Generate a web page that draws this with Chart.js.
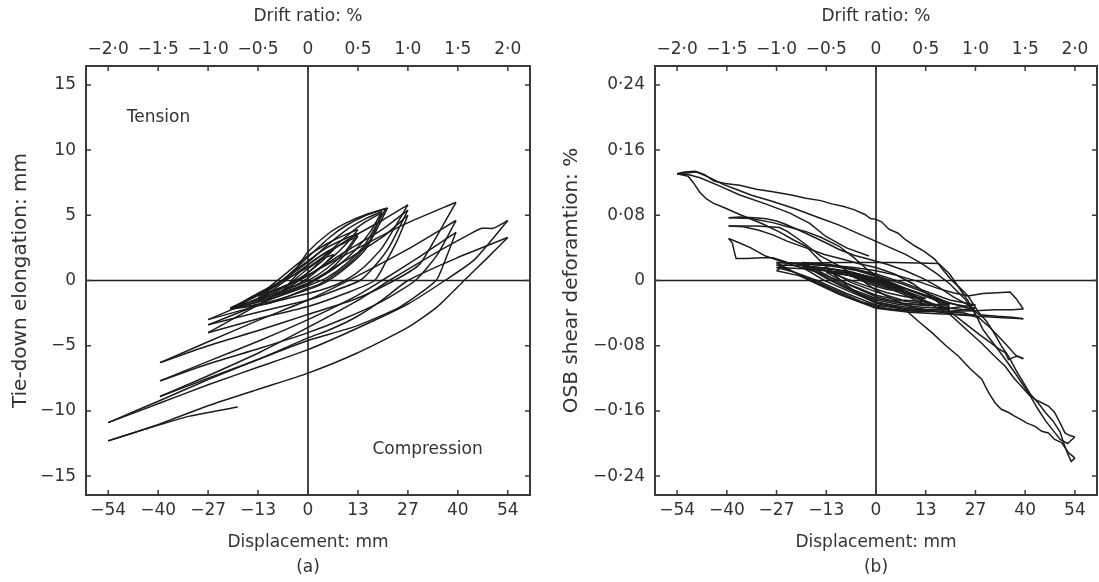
<!DOCTYPE html>
<html>
<head>
<meta charset="utf-8">
<script src="https://cdn.jsdelivr.net/npm/chart.js@4.4.1/dist/chart.umd.min.js"></script>
<style>
  html, body { margin: 0; padding: 0; background: #fff; overflow: hidden; }
  #chartA { position: absolute; left: 0; top: 0; }
  #chartB { position: absolute; left: 549px; top: 0; }
</style>
</head>
<body>
<canvas id="chartA" width="550" height="582"></canvas>
<canvas id="chartB" width="550" height="582"></canvas>
<script>
// axis ticks
const dispTicks = [-54, -40.5, -27, -13.5, 0, 13.5, 27, 40.5, 54]
const dispLabels = ['−54', '−40', '−27', '−13', '0', '13', '27', '40', '54']
const driftTicks = [-2, -1.5, -1, -0.5, 0, 0.5, 1, 1.5, 2]
const driftLabels = ['−2·0', '−1·5', '−1·0', '−0·5', '0', '0·5', '1·0', '1·5', '2·0']
const elongTicks = [-15, -10, -5, 0, 5, 10, 15]
const elongLabels = ['−15', '−10', '−5', '0', '5', '10', '15']
const shearTicks = [-0.24, -0.16, -0.08, 0, 0.08, 0.16, 0.24]
const shearLabels = ['−0·24', '−0·16', '−0·08', '0', '0·08', '0·16', '0·24']

// (a) tie-down elongation loops, [displacement mm, elongation mm]
const a7 = [[-7,-0.8],[-3.5,-0.4],[0,0.2],[3.5,1.0],[7,2.0],[3.5,1.6],[0,0.9],[-3.5,0.1],[-7,-0.8]]
const a7b = [[-7,-0.9],[-3.5,-0.2],[0,0.6],[3.5,1.4],[7,2.4],[3.5,1.9],[0,1.2],[-3.5,0.3],[-7,-0.9]]
const a13a = [[-13.5,-1.4],[-7,-0.8],[0,0.0],[5,0.9],[10,2.2],[13.5,3.6],[10,3.2],[5,2.5],[0,1.5],[-7,0.0],[-13.5,-1.4]]
const a13b = [[-13.5,-1.6],[-7,-1.0],[0,-0.3],[5,0.6],[10,2.0],[13.5,3.4],[10,2.9],[5,2.2],[0,1.2],[-7,-0.2],[-13.5,-1.6]]
const a13c = [[-13.5,-1.2],[-7,-0.5],[0,0.4],[5,1.4],[10,2.7],[13.5,3.9],[10,3.5],[5,2.8],[0,1.9],[-7,0.3],[-13.5,-1.2]]
const a20a = [[-21,-2.2],[-16,-1.5],[-8.6,-0.4],[-3,1.0],[0,1.8],[5.8,3.3],[10.2,4.2],[15.7,5.0],[21,5.5],[18,4.0],[15,2.6],[10,1.2],[5,0.2],[0,-0.4],[-10,-1.4],[-21,-2.2]]
const a20b = [[-21,-2.1],[-15,-1.3],[-8,-0.2],[-3,1.0],[0,2.2],[5.8,3.66],[10.2,4.4],[15.7,5.06],[21.5,5.57],[18,3.6],[15,2.2],[10,0.9],[5,-0.1],[0,-0.7],[-10,-1.6],[-21,-2.2]]
const a20c = [[-21,-2.2],[-14,-1.6],[-7,-0.6],[0,0.6],[5,2.0],[10,3.3],[15,4.4],[20,5.2],[17,3.2],[13,1.8],[8,0.6],[3,-0.3],[0,-0.6],[-10,-1.7],[-21,-2.2]]
const a20d = [[-20,-2.0],[-14,-1.2],[-7,0.0],[0,1.4],[6,2.9],[11,4.0],[16,4.8],[20,5.3],[17,3.8],[13,2.4],[8,1.1],[3,0.2],[0,-0.2],[-10,-1.2],[-20,-2.0]]
const a27a = [[-21,-2.2],[-13,-0.9],[0,1.0],[10,3.0],[20,4.6],[27,5.8],[20,2.5],[15,1.0],[10,0],[5,-0.6],[0,-1.0],[-13,-1.9],[-27,-3.0]]
const a27b = [[-27,-3.0],[-13,-1.3],[0,0.4],[10,2.2],[20,3.9],[27,5.4],[22,2.6],[18,1.1],[14,0],[7,-0.8],[0,-1.5],[-13,-2.4],[-27,-3.4]]
const a27c = [[-27,-3.4],[-13,-1.8],[0,-0.2],[10,1.5],[20,3.3],[27,5.0],[24,3.0],[21,1.4],[18,0],[10,-1.0],[0,-2.0],[-13,-2.9],[-27,-4.0]]
const a40a = [[-27,-4.0],[-13,-1.8],[0,0.4],[13,2.4],[26,4.3],[40,6.0],[34,3.0],[30,1.2],[23.3,0],[13,-1.4],[0,-2.6],[-13,-3.8],[-27,-5.0],[-40,-6.3]]
const a40b = [[-40,-6.3],[-27,-4.7],[-13,-3.0],[0,-1.5],[13,0.3],[27,2.4],[40,4.6],[35,2.0],[29,0],[20,-1.6],[10,-2.9],[0,-4.0],[-13,-5.2],[-27,-6.4],[-40,-7.7]]
const a40c = [[-40,-7.7],[-27,-6.2],[-13,-4.6],[0,-3.0],[13,-1.2],[20,0],[30,1.8],[40,3.7],[37,1.5],[34.6,0],[25,-2.0],[13,-3.5],[0,-4.6],[-13,-6.0],[-27,-7.5],[-40,-8.9]]
const a54a = [[-40,-8.9],[-27,-7.3],[-13,-5.5],[0,-3.6],[13,-1.6],[22,0],[35,2.2],[44,3.6],[47,4.0],[50,4.0],[54,4.6],[45,1.6],[37,0],[27,-1.8],[13,-3.7],[0,-5.3],[-13,-6.6],[-27,-8.0],[-40,-9.4],[-54,-10.9]]
const a54b = [[-54,-10.9],[-40,-9.2],[-27,-7.6],[-13,-6.0],[0,-4.4],[6,-3.76],[13,-2.8],[20,-1.5],[27,0],[40,1.7],[54,3.3],[48,1.6],[42.2,0],[35,-2.0],[27,-3.6],[13,-5.6],[0,-7.1],[-13,-8.3],[-27,-9.6],[-40,-11.0],[-54,-12.3]]
const aEnd = [[-54,-12.3],[-44,-11.4],[-32,-10.4],[-19,-9.7]]

// (b) OSB shear deformation paths, [displacement mm, shear %]
const b7a = [[-7,0.006],[-3,0.003],[0,-0.001],[4,-0.007],[7,-0.013],[3,-0.011],[0,-0.007],[-4,0.0],[-7,0.006]]
const b7b = [[-7,0.009],[-3,0.004],[0,0.0],[4,-0.005],[7,-0.01],[3,-0.009],[0,-0.005],[-4,0.002],[-7,0.009]]
const b13a = [[-13.5,0.012],[-8,0.009],[-3,0.004],[3,-0.005],[8,-0.013],[13.5,-0.022],[8,-0.02],[3,-0.015],[-3,-0.006],[-8,0.002],[-13.5,0.012]]
const b13b = [[-13.5,0.015],[-7,0.011],[0,0.002],[7,-0.01],[13.5,-0.026],[7,-0.024],[0,-0.014],[-7,-0.002],[-13.5,0.015]]
const b13c = [[-13.5,0.01],[-7,0.006],[0,-0.004],[7,-0.016],[13.5,-0.03],[7,-0.028],[0,-0.02],[-7,-0.006],[-13.5,0.01]]
const b20a = [[-20,0.018],[-13,0.015],[-6,0.009],[0,0.003],[7,-0.008],[13,-0.018],[20,-0.03],[14,-0.029],[7,-0.025],[0,-0.018],[-6,-0.007],[-13,0.005],[-20,0.018]]
const b20b = [[-20,0.02],[-12,0.018],[-5,0.012],[2,0.002],[9,-0.012],[15,-0.022],[20,-0.033],[13,-0.033],[6,-0.029],[0,-0.024],[-8,-0.01],[-14,0.004],[-20,0.02]]
const b20c = [[-20,0.016],[-14,0.012],[-7,0.006],[0,-0.002],[7,-0.014],[14,-0.026],[20,-0.036],[14,-0.036],[7,-0.032],[0,-0.027],[-7,-0.014],[-14,0.0],[-20,0.016]]
const b20d = [[-20,0.022],[-13,0.02],[-6,0.014],[0,0.006],[7,-0.004],[14,-0.016],[20,-0.028],[14,-0.031],[7,-0.028],[0,-0.022],[-7,-0.01],[-14,0.008],[-20,0.022]]
const b27a = [[-27,0.022],[-20,0.021],[-13,0.018],[-6,0.014],[0,0.008],[7,-0.002],[14,-0.014],[20,-0.024],[27,-0.03],[20,-0.034],[13,-0.036],[6,-0.034],[0,-0.03],[-8,-0.016],[-16,0.0],[-22,0.01],[-27,0.016]]
const b27b = [[-27,0.016],[-18,0.014],[-9,0.01],[0,0.002],[8,-0.01],[16,-0.022],[22,-0.03],[27,-0.037],[18,-0.038],[9,-0.037],[0,-0.033],[-8,-0.02],[-15,-0.005],[-21,0.006],[-27,0.012]]
const b27c = [[-27,0.012],[-24,0.021],[-10,0.022],[5,0.022],[17,0.021],[20,0.008],[23,-0.012],[25,-0.025],[27,-0.042],[18,-0.041],[9,-0.039],[0,-0.034],[-10,-0.017],[-18,0.0],[-27,0.022]]
const b27d = [[-27,0.019],[-20,0.018],[-12,0.014],[-4,0.007],[4,-0.004],[12,-0.016],[20,-0.028],[27,-0.034],[20,-0.038],[12,-0.038],[4,-0.036],[-4,-0.026],[-12,-0.01],[-20,0.006],[-27,0.019]]
const b40aUp = [[-27,0.022],[-20,0.021],[-13,0.019],[-6,0.016],[0,0.012],[6,0.006],[12,-0.002],[17,-0.01],[21,-0.015],[25,-0.019],[29,-0.016],[33,-0.015],[36.4,-0.014],[38,-0.022],[40,-0.035]]
const b40aDn = [[40,-0.035],[37,-0.036],[32.3,-0.036],[27,-0.037],[20,-0.034],[14,-0.028],[8,-0.016],[3,-0.002],[-2,0.012],[-6,0.028],[-10,0.042],[-15,0.053],[-19,0.06],[-24,0.066],[-28,0.071],[-34,0.076],[-40,0.077]]
const b40bUp = [[-40,0.077],[-37,0.078],[-33,0.077],[-29.8,0.0757],[-27,0.073],[-24.4,0.0687],[-21,0.062],[-17.2,0.054],[-13.5,0.046],[-10,0.038],[-6,0.031],[-1.9,0.026],[3,0.02],[8,0.012],[13,0.002],[17,-0.008],[21,-0.02],[25,-0.03],[28,-0.042],[33,-0.044],[37,-0.045],[40,-0.047]]
const b40bDn = [[40,-0.047],[36,-0.046],[32,-0.045],[27.8,-0.044],[22,-0.042],[16,-0.038],[10,-0.033],[5,-0.024],[0,-0.012],[-5,0.004],[-10,0.018],[-15,0.03],[-20.8,0.05],[-24,0.06],[-26.2,0.065],[-29,0.066],[-32.5,0.067],[-36,0.067],[-40,0.067]]
const b40cUp = [[-40,0.067],[-36,0.066],[-32,0.062],[-28,0.056],[-24,0.048],[-19,0.04],[-14,0.032],[-9,0.026],[-4,0.02],[0,0.016],[5,0.008],[10,-0.004],[15,-0.02],[20,-0.038],[24,-0.052],[28,-0.066],[31,-0.076],[33.7,-0.085],[35,-0.088],[36,-0.097],[37.5,-0.094],[38.5,-0.093],[40,-0.096]]
const b40cDn = [[40,-0.096],[38,-0.092],[36,-0.082],[34,-0.072],[31,-0.058],[28,-0.046],[24,-0.04],[18,-0.038],[10,-0.036],[4,-0.032],[0,-0.028],[-6,-0.014],[-11,-0.002],[-16,0.01],[-22,0.018],[-26,0.024],[-30,0.03],[-34,0.04],[-37,0.046],[-40,0.0515]]
const b54aUp = [[-40,0.0515],[-39,0.046],[-38.5,0.036],[-38,0.027],[-35,0.027],[-31,0.028],[-28,0.028],[-24,0.022],[-20,0.019],[-15,0.014],[-10,0.009],[-5,0.004],[0,-0.002],[5,-0.01],[10,-0.018],[15,-0.03],[19.7,-0.04],[24,-0.058],[28.7,-0.077],[32,-0.092],[35,-0.105],[37.5,-0.12],[39.5,-0.13],[41.5,-0.14],[43.2,-0.146],[45,-0.15],[46.8,-0.154],[48.5,-0.162],[50,-0.175],[51.3,-0.187],[52.5,-0.19],[54,-0.192]]
const b54aDn = [[54,-0.192],[52,-0.2],[50,-0.195],[48.6,-0.187],[46,-0.172],[44,-0.158],[41.4,-0.138],[38,-0.115],[35,-0.096],[32,-0.078],[29,-0.06],[26.9,-0.04],[24,-0.022],[20,-0.004],[16,0.01],[12,0.022],[8,0.032],[4,0.04],[0,0.048],[-4,0.056],[-10,0.068],[-16,0.078],[-22,0.088],[-28,0.097],[-34,0.105],[-38,0.112],[-41.5,0.118],[-45,0.126],[-48.7,0.133],[-54,0.131]]
const b54bUp = [[-54,0.131],[-52,0.133],[-49,0.134],[-46.5,0.13],[-44,0.122],[-41,0.119],[-37,0.117],[-32.5,0.112],[-28,0.109],[-23,0.105],[-19,0.101],[-15,0.098],[-12,0.094],[-9,0.091],[-6,0.087],[-3,0.081],[-1.5,0.076],[0,0.075],[1.5,0.072],[3.5,0.063],[6,0.058],[8,0.05],[10.7,0.042],[13,0.036],[16,0.026],[18,0.014],[20.6,0.0],[23,-0.01],[25,-0.019],[28,-0.04],[30,-0.05],[32,-0.064],[34,-0.08],[36,-0.093],[38,-0.11],[40,-0.125],[42,-0.14],[44,-0.15],[46,-0.162],[48,-0.172],[50,-0.186],[51,-0.2],[52,-0.212],[53,-0.222],[54,-0.218]]
const b54bDn = [[54,-0.218],[53,-0.214],[52.2,-0.211],[50.4,-0.199],[48.5,-0.195],[46.8,-0.187],[45,-0.185],[43.2,-0.179],[41,-0.175],[39.5,-0.171],[37.5,-0.166],[36,-0.162],[34,-0.158],[32.3,-0.15],[30.5,-0.137],[28.7,-0.121],[25.5,-0.108],[22.4,-0.093],[19,-0.08],[15.2,-0.064],[11.5,-0.05],[8,-0.036],[4,-0.03],[0,-0.026],[-4,-0.018],[-8,-0.006],[-12,0.01],[-16,0.028],[-19,0.042],[-22.5,0.05],[-26,0.059],[-31,0.07],[-37,0.081],[-41,0.089],[-44.2,0.095],[-46,0.1],[-47.8,0.108],[-49.6,0.12],[-51,0.128],[-54,0.131]]
const bEnd = [[-54,0.131],[-51,0.13],[-47.8,0.126],[-43,0.117],[-37,0.105],[-30,0.094],[-23.5,0.083],[-18,0.07],[-13.6,0.054],[-8,0.04],[-1.9,0.03]]

const pathsA = [a7, a7b, a13a, a13b, a13c, a20a, a20b, a20c, a20d, a27a, a27b, a27c, a40a, a40b, a40c, a54a, a54b, aEnd]
const pathsB = [b7a, b7b, b13a, b13b, b13c, b20a, b20b, b20c, b20d, b27a, b27b, b27c, b27d,
                b40aUp, b40aDn, b40bUp, b40bDn, b40cUp, b40cDn, b54aUp, b54aDn, b54bUp, b54bDn, bEnd]

const notesA = [{ text: 'Tension', x: -49, y: 12.5 }, { text: 'Compression', x: 17.4, y: -13 }]

const textColor = '#333'
const lineColor = '#1c1c1c'
const fontFamily = '"DejaVu Sans", "Open Sans", sans-serif'

// split a loop at its right-most point so the turning points stay sharp
function branches(path) {
    let k = 0
    path.forEach((p, i) => { if (p[0] > path[k][0]) k = i })
    return [path.slice(0, k + 1), path.slice(k)].filter(b => b.length > 1)
}

function makeDatasets(paths, tension) {
    const out = []
    paths.forEach(path => {
        branches(path).forEach(b => {
            out.push({
                data: b.map(p => ({ x: p[0], y: p[1] })),
                showLine: true,
                borderColor: lineColor,
                borderWidth: 1.5,
                pointRadius: 0,
                pointHoverRadius: 0,
                fill: false,
                tension: tension
            })
        })
    })
    return out
}

const framePlugin = {
    id: 'frame',
    beforeDatasetsDraw(chart) {
        const { ctx, chartArea: a, scales } = chart
        ctx.save()
        ctx.strokeStyle = lineColor
        ctx.lineWidth = 1.6
        const x0 = scales.x.getPixelForValue(0)
        const y0 = scales.y.getPixelForValue(0)
        ctx.beginPath()
        ctx.moveTo(x0, a.top); ctx.lineTo(x0, a.bottom)
        ctx.moveTo(a.left, y0); ctx.lineTo(a.right, y0)
        ctx.stroke()

        ctx.strokeStyle = '#3a3a3a'
        ctx.lineWidth = 2
        ctx.strokeRect(a.left, a.top, a.right - a.left, a.bottom - a.top)

        ctx.lineWidth = 1.5
        ctx.beginPath()
        scales.x.ticks.forEach(t => {
            const p = scales.x.getPixelForValue(t.value)
            ctx.moveTo(p, a.bottom); ctx.lineTo(p, a.bottom - 5)
        })
        scales.x2.ticks.forEach(t => {
            const p = scales.x2.getPixelForValue(t.value)
            ctx.moveTo(p, a.top); ctx.lineTo(p, a.top + 5)
        })
        scales.y.ticks.forEach(t => {
            const p = scales.y.getPixelForValue(t.value)
            ctx.moveTo(a.left, p); ctx.lineTo(a.left + 5, p)
            ctx.moveTo(a.right, p); ctx.lineTo(a.right - 5, p)
        })
        ctx.stroke()
        ctx.restore()
    },
    afterDraw(chart, args, opts) {
        const notes = opts.notes || []
        const { ctx, scales } = chart
        ctx.save()
        ctx.font = '17px ' + fontFamily
        ctx.fillStyle = textColor
        ctx.textAlign = 'left'
        ctx.textBaseline = 'middle'
        notes.forEach(n => {
            ctx.fillText(n.text, scales.x.getPixelForValue(n.x), scales.y.getPixelForValue(n.y))
        })
        ctx.restore()
    }
}

function makeChart(id, cfg) {
    const font = { family: fontFamily, size: 17 }
    const noGrid = { display: false, drawTicks: false }
    new Chart(document.getElementById(id), {
        type: 'scatter',
        data: { datasets: makeDatasets(cfg.paths, cfg.tension) },
        options: {
            responsive: false,
            animation: false,
            layout: { padding: 0 },
            plugins: {
                legend: { display: false },
                tooltip: { enabled: false },
                frame: { notes: cfg.notes }
            },
            scales: {
                x: {
                    type: 'linear', position: 'bottom', min: -60, max: 60,
                    afterBuildTicks: s => { s.ticks = dispTicks.map(v => ({ value: v })) },
                    afterFit: s => { s.height = 87 },
                    ticks: { callback: (v, i) => dispLabels[i], font, color: textColor, padding: 5, maxRotation: 0, autoSkip: false },
                    grid: noGrid, border: { display: false },
                    title: { display: true, text: ['Displacement: mm', cfg.tag], color: textColor,
                             font: { family: fontFamily, size: 17, lineHeight: 1.45 }, padding: { top: 0, bottom: 2 } }
                },
                x2: {
                    type: 'linear', position: 'top', min: -60 / 27, max: 60 / 27,
                    afterBuildTicks: s => { s.ticks = driftTicks.map(v => ({ value: v })) },
                    afterFit: s => { s.height = 66 },
                    ticks: { callback: (v, i) => driftLabels[i], font, color: textColor, padding: 6, maxRotation: 0, autoSkip: false },
                    grid: noGrid, border: { display: false },
                    title: { display: true, text: 'Drift ratio: %', color: textColor, font, padding: { top: 6, bottom: 0 } }
                },
                y: {
                    type: 'linear', position: 'left', min: cfg.yMin, max: cfg.yMax,
                    afterBuildTicks: s => { s.ticks = cfg.yTicks.map(v => ({ value: v })) },
                    afterFit: s => { s.width = cfg.leftW },
                    ticks: { callback: (v, i) => cfg.yLabels[i], font, color: textColor, padding: 10, autoSkip: false },
                    grid: noGrid, border: { display: false },
                    title: { display: true, text: cfg.yTitle, color: textColor,
                             font: { family: fontFamily, size: 20 }, padding: { top: cfg.yTitlePad, bottom: 0 } }
                },
                y2: {
                    type: 'linear', position: 'right', min: cfg.yMin, max: cfg.yMax,
                    afterFit: s => { s.width = cfg.rightW },
                    ticks: { display: false },
                    grid: noGrid, border: { display: false }
                }
            }
        },
        plugins: [framePlugin]
    })
}

makeChart('chartA', {
    paths: pathsA, tension: 0.2, tag: '(a)', notes: notesA,
    yMin: -16.45, yMax: 16.45, yTicks: elongTicks, yLabels: elongLabels,
    yTitle: 'Tie-down elongation: mm', leftW: 86, rightW: 20, yTitlePad: 9
})

makeChart('chartB', {
    paths: pathsB, tension: 0, tag: '(b)', notes: [],
    yMin: -0.2632, yMax: 0.2632, yTicks: shearTicks, yLabels: shearLabels,
    yTitle: 'OSB shear deforamtion: %', leftW: 106, rightW: 2, yTitlePad: 11
})
</script>
</body>
</html>
